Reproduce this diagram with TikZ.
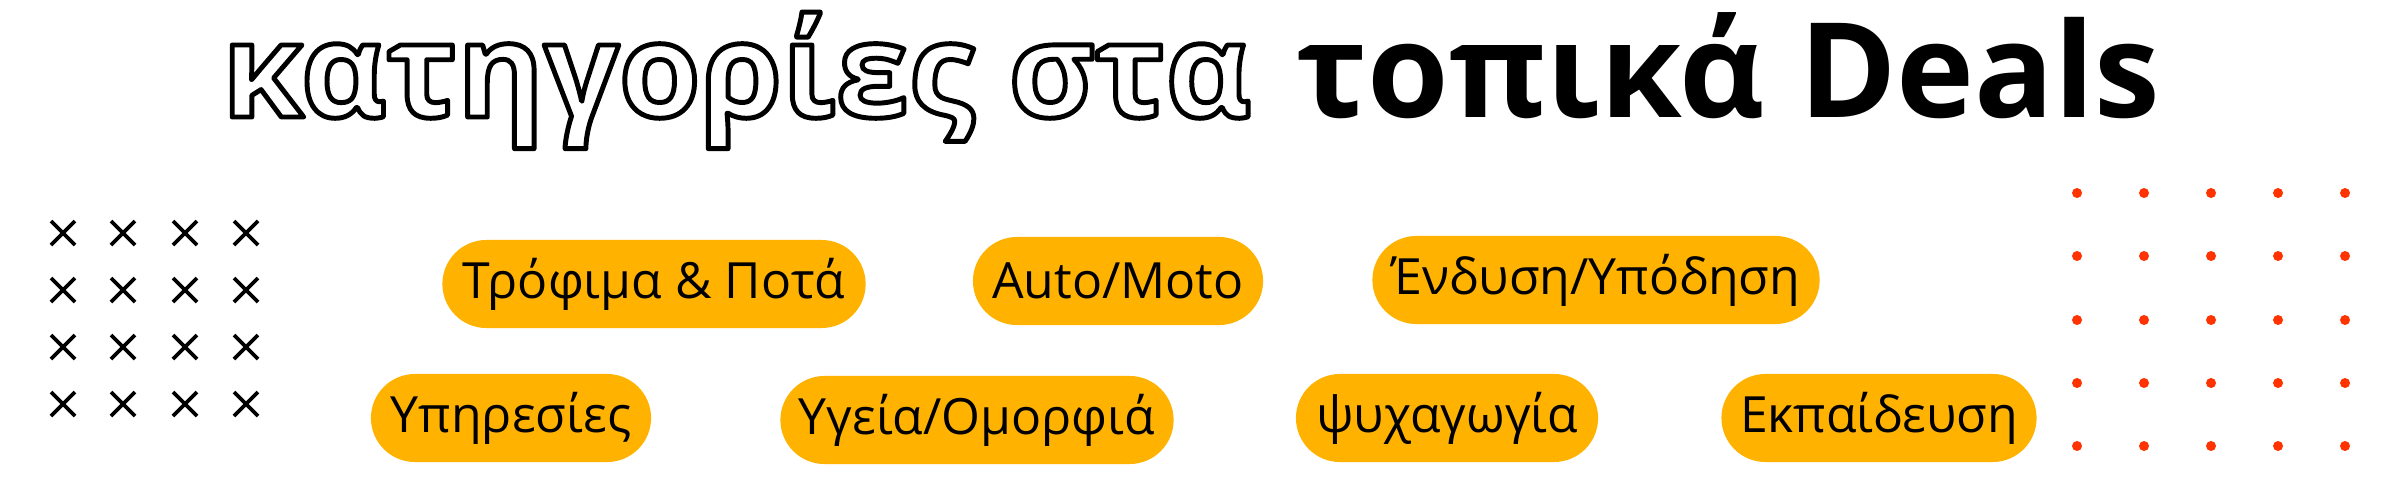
\documentclass[tikz,border=0pt]{standalone}
\usepackage{fontspec}
\setmainfont{Open Sans}
\definecolor{pillc}{HTML}{FFB300}
\definecolor{dotc}{HTML}{FF3300}
\newcommand{\outlinedtext}[1]{\color{white}\special{pdf:literal direct 0 0 0 RG 2 Tr 1.4 w 1 j}#1\special{pdf:literal direct 0 Tr}}
\tikzset{
  pill/.style={rectangle, rounded corners=0.44cm, fill=pillc, minimum height=0.88cm, inner xsep=0pt, text=black, font=\fontsize{14.2}{17}\selectfont},
  crossmark/.style={line width=1.1pt, black},
  reddot/.style={circle, fill=dotc, inner sep=0pt, minimum size=0.1cm},
  titlefont/.style={font=\fontsize{37.5}{44}\selectfont\bfseries, inner sep=0pt},
}
\begin{document}
\begin{tikzpicture}[x=0.01cm,y=-0.01cm]
\useasboundingbox (0,0) rectangle (2400,500);
% title
\node[titlefont, anchor=base east] (t1) at (1252,117) {\outlinedtext{κατηγορίες στα}};
\node[titlefont, anchor=base west] (t2) at (1296,117) {τοπικά Deals};
% pills
\node[pill, minimum width=4.23cm] (p1) at (654,284) {Τρόφιμα \& Ποτά};
\node[pill, minimum width=2.90cm] (p2) at (1118,281) {Auto/Moto};
\node[pill, minimum width=4.47cm] (p3) at (1596,280) {Ένδυση/Υπόδηση};
\node[pill, minimum width=2.80cm] (p4) at (511,418) {Υπηρεσίες};
\node[pill, minimum width=3.93cm] (p5) at (977,420) {Υγεία/Ομορφιά};
\node[pill, minimum width=3.02cm] (p6) at (1447,418) {ψυχαγωγία};
\node[pill, minimum width=3.15cm] (p7) at (1879,418) {Εκπαίδευση};
% crosses
\foreach \cx in {63,123,185,246} {
  \foreach \cy in {233,290,347,404} {
    \draw[crossmark] (\cx-12,\cy-12) -- (\cx+12,\cy+12) (\cx-12,\cy+12) -- (\cx+12,\cy-12);
  }
}
% dots
\foreach \dx in {2077,2144,2211,2278,2345} {
  \foreach \dy in {193,256,320,383,446} {
    \node[reddot] at (\dx,\dy) {};
  }
}
\end{tikzpicture}
\end{document}
